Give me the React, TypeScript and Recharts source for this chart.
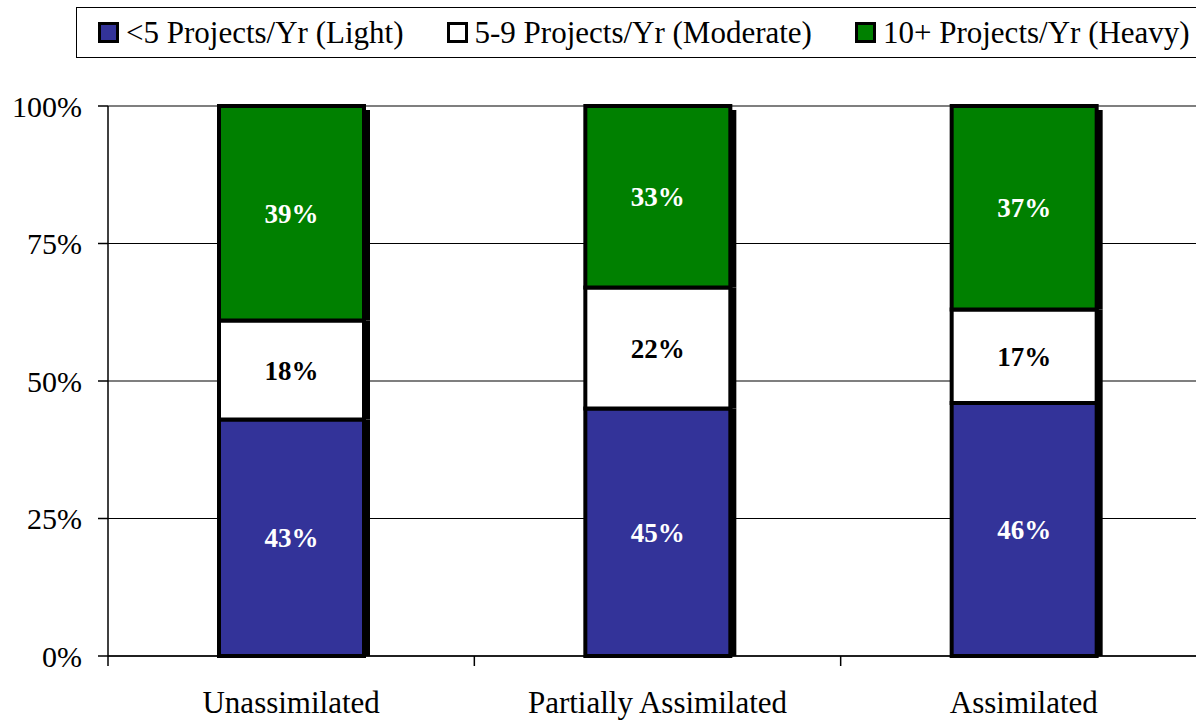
import { Bar, BarChart, CartesianGrid, LabelList, XAxis, YAxis } from "recharts";

const CATEGORIES = ["Unassimilated", "Partially Assimilated", "Assimilated"];
const LIGHT = [43, 45, 46];
const MODERATE = [18, 22, 17];
const HEAVY = [39, 33, 37];
const Y_TICKS = [0, 25, 50, 75, 100];

const SERIES = [
  { key: "light", name: "<5 Projects/Yr (Light)", fill: "#333399", text: "#ffffff" },
  { key: "moderate", name: "5-9 Projects/Yr (Moderate)", fill: "#ffffff", text: "#000000" },
  { key: "heavy", name: "10+ Projects/Yr (Heavy)", fill: "#008000", text: "#ffffff" },
];

const data = CATEGORIES.map((name, i) => ({
  name,
  light: LIGHT[i],
  moderate: MODERATE[i],
  heavy: HEAVY[i],
}));

const FONT = '"Liberation Serif", "Times New Roman", serif';
const W = 1210;
const H = 720;
const LEFT = 108;
const RIGHT = 3;
const TOP = 106;
const X_AXIS_H = 64;
const PLOT_BOTTOM = H - X_AXIS_H;
const BAND = (W - LEFT - RIGHT) / CATEGORIES.length;

// black drop shadow on the right edge; only the top segment gets the offset
function ShadowBar(props: any) {
  const { x, y, width, height, fill, top } = props;
  if (!height) return null;
  const off = top ? 4 : 0;
  return (
    <g>
      <rect x={x + width} y={y + off} width={6} height={height - off} fill="#000" />
      <rect x={x} y={y} width={width} height={height} fill={fill} stroke="#000" strokeWidth={4} />
    </g>
  );
}

function CategoryTick(props: any) {
  const { x, payload } = props;
  const left = x - BAND / 2;
  return (
    <g>
      <line x1={left} x2={left} y1={PLOT_BOTTOM} y2={PLOT_BOTTOM + 10} stroke="#000" strokeWidth={1.5} />
      <text x={x} y={PLOT_BOTTOM + 57} textAnchor="middle" fontSize={31} fontFamily={FONT} fill="#000">
        {payload.value}
      </text>
    </g>
  );
}

function ChartLegend() {
  return (
    <div
      style={{
        position: "absolute",
        left: 76,
        top: 7,
        width: 1140,
        height: 51,
        border: "1.5px solid #000",
        display: "flex",
        alignItems: "center",
        paddingLeft: 21,
        boxSizing: "border-box",
        fontFamily: FONT,
        fontSize: 31,
        whiteSpace: "nowrap",
      }}
    >
      {SERIES.map((s) => (
        <div key={s.key} style={{ display: "flex", alignItems: "center", marginRight: 43 }}>
          <span
            style={{
              display: "inline-block",
              width: 15,
              height: 15,
              background: s.fill,
              border: "3.5px solid #000",
              marginRight: 7,
            }}
          />
          <span>{s.name}</span>
        </div>
      ))}
    </div>
  );
}

export default function App() {
  return (
    <div
      style={{
        position: "fixed",
        left: 0,
        top: 0,
        width: 1196,
        height: 720,
        overflow: "hidden",
        background: "#fff",
      }}
    >
      <BarChart
        width={W}
        height={H}
        data={data}
        margin={{ top: TOP, right: RIGHT, bottom: 0, left: 0 }}
        barSize={145}
      >
        <CartesianGrid horizontal vertical={false} stroke="#000" strokeWidth={1.2} />
        <XAxis
          dataKey="name"
          height={X_AXIS_H}
          tickLine={false}
          axisLine={{ stroke: "#000", strokeWidth: 1.5 }}
          tick={<CategoryTick />}
          interval={0}
        />
        <YAxis
          width={LEFT}
          domain={[0, 100]}
          ticks={Y_TICKS}
          tickFormatter={(v: number) => `${v}%`}
          tickSize={10}
          tickMargin={16}
          axisLine={{ stroke: "#000", strokeWidth: 1.5 }}
          tickLine={{ stroke: "#000", strokeWidth: 1.5 }}
          tick={{ fill: "#000", fontSize: 30, fontFamily: FONT }}
        />
        {SERIES.map((s, i) => (
          <Bar
            key={s.key}
            dataKey={s.key}
            name={s.name}
            stackId="a"
            fill={s.fill}
            shape={<ShadowBar top={i === SERIES.length - 1} />}
            isAnimationActive={false}
          >
            <LabelList
              dataKey={s.key}
              position="center"
              formatter={(v: number) => `${v}%`}
              fill={s.text}
              fontSize={27}
              fontWeight="bold"
              fontFamily={FONT}
            />
          </Bar>
        ))}
      </BarChart>
      <ChartLegend />
    </div>
  );
}
